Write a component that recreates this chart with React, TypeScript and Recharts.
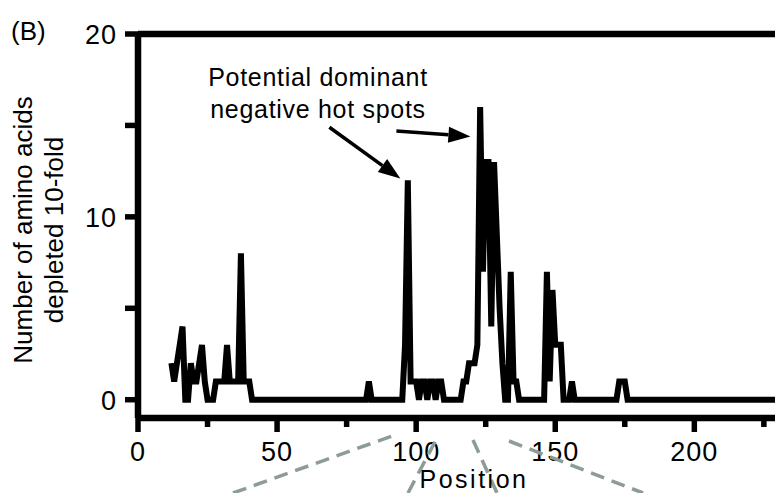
import React from 'react';
import { LineChart, Line, XAxis, YAxis, ReferenceLine } from 'recharts';

// positions along the protein and number of amino acids depleted 10-fold
const positions = [
  12, 13, 14, 15, 16, 17, 18, 19, 20, 21, 22, 23, 24, 25, 26, 27, 28, 29, 30, 31, 32, 33, 34, 35, 36, 37, 38, 39, 40, 41,
  82, 83, 84,
  95, 96, 97, 98, 99, 100, 101, 102, 103, 104, 105, 106, 107, 108, 109, 110,
  116, 117, 118, 119, 120, 121, 122, 123, 124, 125, 126, 127, 128, 129, 130, 131, 132, 133, 134, 135, 136, 137,
  146, 147, 148, 149, 150, 151, 152, 153,
  155, 156, 157,
  172, 173, 174, 175, 176,
  229,
];
const depleted = [
  2, 1, 2, 3, 4, 0, 0, 2, 1, 1, 2, 3, 1, 0, 0, 0, 1, 1, 1, 1, 3, 1, 1, 1, 1, 8, 1, 1, 1, 0,
  0, 1, 0,
  0, 3, 12, 1, 1, 1, 0, 1, 1, 0, 1, 1, 0, 1, 1, 0,
  0, 1, 1, 2, 2, 2, 3, 16, 7, 13, 13, 4, 13, 9, 5, 2, 0, 0, 7, 1, 1, 0,
  0, 7, 1, 6, 3, 3, 3, 0,
  0, 1, 0,
  0, 1, 1, 1, 0,
  0,
];

const xTicks = [0, 25, 50, 75, 100, 125, 150, 175, 200, 225];
const yTicks = [0, 5, 10, 15, 20];

// annotation arrows, in data units: [from, to]
const arrowToLeftPeak = [{ x: 68.8, y: 14.9 }, { x: 94.3, y: 12.1 }];
const arrowToRightPeak = [{ x: 92.9, y: 14.7 }, { x: 119.5, y: 14.4 }];

const data = positions.map((p, i) => ({ pos: p, count: depleted[i] }));

const FONT = '"Liberation Sans", Arial, Helvetica, sans-serif';

const XTick = (props: any) => {
  const { x, y, payload } = props;
  const major = payload.value % 50 === 0;
  return (
    <g>
      <line x1={x} x2={x} y1={y} y2={y + (major ? 14 : 9)} stroke="#000" strokeWidth={5.5} />
      {major && (
        <text x={x} y={y + 43} textAnchor="middle" fontSize={27} letterSpacing={1} fontFamily={FONT} fill="#000">
          {payload.value}
        </text>
      )}
    </g>
  );
};

const YTick = (props: any) => {
  const { x, y, payload } = props;
  return (
    <g>
      <line x1={x} x2={x - 13} y1={y} y2={y} stroke="#000" strokeWidth={5.5} />
      {payload.value % 10 === 0 && (
        <text x={x - 21} y={y + 10} textAnchor="end" fontSize={27} letterSpacing={1} fontFamily={FONT} fill="#000">
          {payload.value}
        </text>
      )}
    </g>
  );
};

const Arrow = (p: any) => {
  const { x1, y1, x2, y2 } = p;
  const a = Math.atan2(y2 - y1, x2 - x1);
  const len = 22;
  const w = 8;
  const bx = x2 - len * Math.cos(a);
  const by = y2 - len * Math.sin(a);
  const pts = [
    `${x2},${y2}`,
    `${bx - w * Math.sin(a)},${by + w * Math.cos(a)}`,
    `${bx + w * Math.sin(a)},${by - w * Math.cos(a)}`,
  ].join(' ');
  return (
    <g>
      <line x1={x1} y1={y1} x2={bx} y2={by} stroke="#000" strokeWidth={3.5} />
      <polygon points={pts} fill="#000" />
    </g>
  );
};

export default function App() {
  return (
    <div style={{ position: 'absolute', left: 0, top: 0, width: 775, height: 493, background: '#fff' }}>
      <LineChart width={775} height={493} data={data} margin={{ top: 34, right: 0, bottom: 0, left: 0 }}>
        <XAxis
          type="number"
          dataKey="pos"
          domain={[0, 229]}
          ticks={xTicks}
          interval={0}
          height={75}
          tickSize={0}
          tickMargin={0}
          tickLine={false}
          axisLine={{ stroke: '#000', strokeWidth: 6.5 }}
          tick={<XTick />}
        />
        <YAxis
          type="number"
          domain={[-1, 20]}
          ticks={yTicks}
          interval={0}
          width={138}
          tickSize={0}
          tickMargin={0}
          tickLine={false}
          axisLine={{ stroke: '#000', strokeWidth: 6.5 }}
          tick={<YTick />}
        />
        <ReferenceLine y={20} stroke="#000" strokeWidth={6.5} />
        <ReferenceLine segment={arrowToLeftPeak} shape={Arrow} />
        <ReferenceLine segment={arrowToRightPeak} shape={Arrow} />
        <Line
          type="linear"
          dataKey="count"
          stroke="#000"
          strokeWidth={6}
          dot={false}
          isAnimationActive={false}
        />
      </LineChart>
      <svg
        width={775}
        height={493}
        style={{ position: 'absolute', left: 0, top: 0, pointerEvents: 'none' }}
        fontFamily={FONT}
      >
        <text x={11} y={40} fontSize={26} fill="#000">(B)</text>
        <text x={32} y={230} fontSize={26} textAnchor="middle" transform="rotate(-90, 32, 230)" fill="#000">
          Number of amino acids
        </text>
        <text x={63} y={230} fontSize={26} textAnchor="middle" transform="rotate(-90, 63, 230)" fill="#000">
          depleted 10-fold
        </text>
        <text x={318} y={86} fontSize={25} textAnchor="middle" letterSpacing={0.7} fill="#000">
          Potential dominant
        </text>
        <text x={318} y={118} fontSize={25} textAnchor="middle" letterSpacing={0.7} fill="#000">
          negative hot spots
        </text>
        <g stroke="#8d9c97" strokeWidth={3.5} strokeDasharray="14 8" fill="none">
          <line x1={233} y1={493} x2={392} y2={436} />
          <line x1={408} y1={493} x2={437} y2={438} />
          <line x1={473} y1={440} x2={497} y2={493} />
          <line x1={509} y1={441} x2={643} y2={493} />
        </g>
        <text x={474} y={488} fontSize={25} textAnchor="middle" letterSpacing={2.5} fill="#000">
          Position
        </text>
      </svg>
    </div>
  );
}
